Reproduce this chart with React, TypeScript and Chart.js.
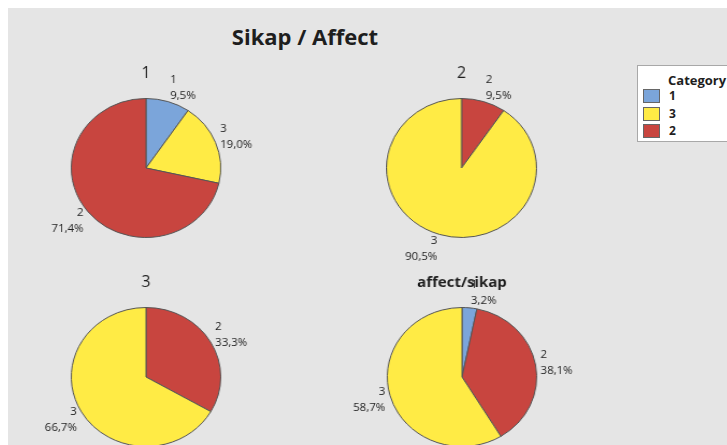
import { useEffect, useRef } from 'react';
import { Chart, registerables } from 'chart.js';

Chart.register(...registerables);

// ---- data ----
const chartTitle = 'Sikap / Affect';
const pieTitles = ['1', '2', '3', 'affect/sikap'];
const pie1Labels = ['1', '3', '2'];
const pie1Values = [9.5, 19.0, 71.4];
const pie2Labels = ['2', '3'];
const pie2Values = [9.5, 90.5];
const pie3Labels = ['2', '3'];
const pie3Values = [33.3, 66.7];
const pie4Labels = ['1', '2', '3'];
const pie4Values = [3.2, 38.1, 58.7];
const legendTitle = 'Category';
const legendCategories = ['1', '3', '2'];
const categoryColors: Record<string, string> = { '1': '#7ba5da', '3': '#ffeb45', '2': '#c8453f' };

const pies = [
  { title: pieTitles[0], bold: false, labels: pie1Labels, values: pie1Values, cx: 146, cy: 168 },
  { title: pieTitles[1], bold: false, labels: pie2Labels, values: pie2Values, cx: 461.5, cy: 168 },
  { title: pieTitles[2], bold: false, labels: pie3Labels, values: pie3Values, cx: 146, cy: 377 },
  { title: pieTitles[3], bold: true, labels: pie4Labels, values: pie4Values, cx: 462, cy: 377 },
];

const SX = 75.5 / 70; // horizontal stretch (elliptical pies)
const IW = 240;
const IH = 220;
const FONT = '"Open Sans", "Noto Sans", sans-serif';
const TEXT = '#1e1e1e';

const fmt = (v: number) => v.toFixed(1).replace('.', ',') + '%';

const pieLabelPlugin = {
  id: 'pieLabels',
  afterDatasetsDraw(chart: any, _args: any, opts: any) {
    const ctx = chart.ctx as CanvasRenderingContext2D;
    const meta = chart.getDatasetMeta(0);
    const ds = chart.data.datasets[0];
    const labels = chart.data.labels;
    ctx.save();
    ctx.fillStyle = TEXT;
    ctx.textBaseline = 'middle';
    let cxp = 0, cyp = 0, rr = 0;
    meta.data.forEach((arc: any, i: number) => {
      const { x, y, startAngle, endAngle, outerRadius } = arc.getProps(
        ['x', 'y', 'startAngle', 'endAngle', 'outerRadius'], true);
      cxp = x; cyp = y; rr = outerRadius;
      const a = (startAngle + endAngle) / 2;
      const ca = Math.cos(a);
      const sa = Math.sin(a);
      const ex = x + outerRadius * ca;
      const ey = y + outerRadius * sa;
      const h = (1 + 4 * Math.abs(ca)) / SX;
      const right = ca >= -1e-6;
      const tx = right ? ex + h : ex - h;
      const mid = ey + 15 * sa;
      const lines = [String(labels[i]), fmt(ds.data[i])];
      ctx.font = `11.5px ${FONT}`;
      ctx.textAlign = right ? 'left' : 'right';
      lines.forEach((t, j) => {
        ctx.save();
        ctx.translate(tx, mid + (j === 0 ? -8 : 8));
        ctx.scale(1 / SX, 1);
        ctx.fillText(t, 0, 0);
        ctx.restore();
      });
    });
    // pie title
    ctx.font = opts.bold ? `bold 15px ${FONT}` : `16px ${FONT}`;
    ctx.textAlign = 'center';
    ctx.save();
    ctx.translate(cxp, cyp - rr - 25);
    ctx.scale(1 / SX, 1);
    ctx.fillText(opts.title, 0, 0);
    ctx.restore();
    ctx.restore();
  },
};

function PieCanvas({ idx }: { idx: number }) {
  const ref = useRef<HTMLCanvasElement | null>(null);
  const p = pies[idx];
  useEffect(() => {
    if (!ref.current) return;
    const chart = new Chart(ref.current, {
      type: 'pie',
      data: {
        labels: p.labels,
        datasets: [{
          data: p.values,
          backgroundColor: p.labels.map((l) => categoryColors[l]),
          borderColor: '#555555',
          borderWidth: 1,
        }],
      },
      options: {
        responsive: false,
        animation: false,
        devicePixelRatio: 1,
        events: [],
        layout: { padding: { left: 50, right: 50, top: 40, bottom: 40 } },
        plugins: {
          legend: { display: false },
          tooltip: { enabled: false },
          // @ts-ignore
          pieLabels: { title: p.title, bold: p.bold },
        },
      },
      plugins: [pieLabelPlugin],
    } as any);
    return () => chart.destroy();
  }, []);
  const left = p.cx - 8 - (IW / 2) * SX;
  const top = p.cy - 8 - IH / 2;
  return (
    <canvas
      ref={ref}
      width={IW}
      height={IH}
      style={{ position: 'absolute', left, top, width: IW * SX, height: IH }}
    />
  );
}

export default function App() {
  return (
    <div
      style={{
        position: 'fixed', left: 8, top: 8, width: 719, height: 437,
        background: '#e5e5e5', overflow: 'hidden', fontFamily: FONT, color: TEXT,
      }}
    >
      <div
        style={{
          position: 'absolute', left: 0, width: 594, top: 17, textAlign: 'center',
          fontSize: 22, lineHeight: '22px', fontWeight: 700,
        }}
      >
        {chartTitle}
      </div>
      {pies.map((_, i) => <PieCanvas key={i} idx={i} />)}
      <div
        style={{
          position: 'absolute', left: 629, top: 57, width: 110, height: 77,
          boxSizing: 'border-box', background: '#ffffff', border: '1px solid #a8a8a8',
        }}
      >
        <div style={{ position: 'absolute', left: 30, top: 6, fontSize: 13, lineHeight: '16px', fontWeight: 700 }}>
          {legendTitle}
        </div>
        {legendCategories.map((c, i) => (
          <div key={c}>
            <div
              style={{
                position: 'absolute', left: 5, top: 23 + i * 17.5, width: 17, height: 14,
                boxSizing: 'border-box', background: categoryColors[c], border: '1px solid #666',
              }}
            />
            <div
              style={{
                position: 'absolute', left: 31, top: 22 + i * 17.5, fontSize: 12,
                lineHeight: '16px', fontWeight: 700,
              }}
            >
              {c}
            </div>
          </div>
        ))}
      </div>
    </div>
  );
}
